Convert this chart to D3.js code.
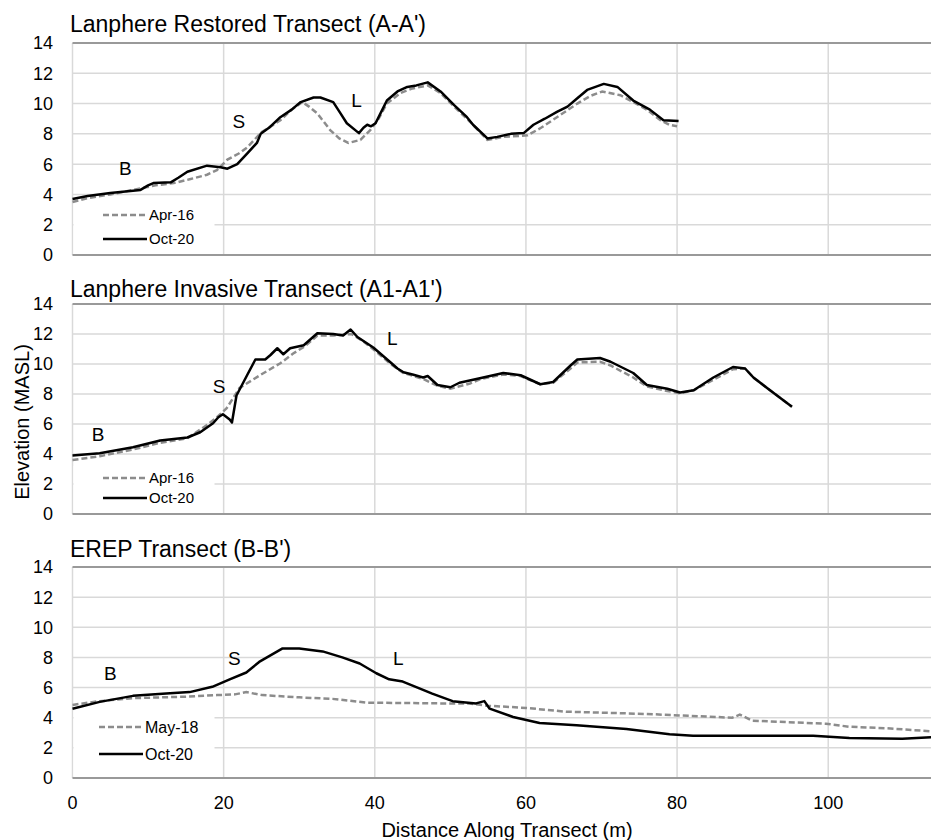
<!DOCTYPE html>
<html>
<head>
<meta charset="utf-8">
<script src="https://cdn.jsdelivr.net/npm/d3@7"></script>
<style>
  body { margin: 0; background: #fff; }
  text { font-family: "Liberation Sans", Arial, sans-serif; fill: #000; }
</style>
</head>
<body>
<div id="chart"></div>
<script>
const width = 931
const height = 840

// distance (m), elevation (MASL) pairs
const restoredApr16 = [[0,3.5],[2,3.75],[5,4.0],[7,4.2],[9,4.4],[11,4.6],[13.4,4.75],[15.5,5.0],[17.8,5.3],[19.1,5.6],[20.5,6.3],[22,6.7],[23.1,7.1],[25,8.1],[27.5,8.9],[29,9.6],[30.4,10.1],[31.3,9.8],[32.4,9.35],[34.1,8.25],[35.3,7.7],[36.5,7.4],[38.1,7.6],[39.4,8.25],[40.5,9.0],[41.6,10.0],[43.4,10.7],[45,11.0],[47,11.2],[48.7,10.7],[50.5,9.8],[52.6,8.8],[54.9,7.6],[57,7.8],[60.2,7.9],[62,8.4],[64.1,9.1],[66.8,10.0],[68.5,10.5],[70.1,10.8],[72.5,10.55],[74.2,10.1],[76,9.6],[77.8,8.9],[79,8.6],[80,8.5]]
const restoredOct20 = [[0,3.7],[2,3.9],[5,4.1],[7,4.2],[9,4.3],[10,4.6],[10.7,4.75],[13,4.8],[14,5.1],[15.2,5.5],[17.8,5.9],[19.6,5.8],[20.5,5.7],[21.8,6.0],[23.1,6.7],[24.4,7.4],[24.9,8.0],[26,8.4],[27.5,9.1],[29,9.6],[30.2,10.1],[31.9,10.4],[32.8,10.4],[34.5,10.1],[35.4,9.4],[36.3,8.7],[37.9,8.05],[38.5,8.4],[39,8.6],[39.5,8.5],[40.1,8.7],[41,9.6],[41.6,10.2],[43,10.8],[44.3,11.1],[45.5,11.2],[47,11.4],[48.7,10.8],[50.5,9.9],[52.2,9.1],[53,8.6],[54.9,7.7],[56.2,7.8],[58,8.0],[59.7,8.05],[61,8.6],[62.5,9.0],[64.1,9.45],[65.5,9.8],[66.8,10.35],[68.1,10.9],[70.3,11.3],[72.1,11.1],[74.2,10.2],[76.4,9.6],[78.2,8.9],[80.2,8.85]]

const invasiveApr16 = [[0,3.6],[3.6,3.85],[8,4.3],[11.6,4.75],[15.2,5.05],[17.7,5.9],[19,6.4],[20.4,7.05],[22.1,8.4],[24.8,9.25],[27.5,10.05],[29.2,10.7],[30.8,11.2],[32.4,11.9],[34.5,11.9],[36.9,12.0],[38.5,11.5],[40,10.9],[42.1,10.0],[43.8,9.4],[46.4,9.0],[48.3,8.55],[50,8.35],[52.6,8.7],[54,9.0],[57,9.3],[59.3,9.2],[61.9,8.65],[63.6,8.75],[65.9,9.7],[66.8,10.1],[69.8,10.15],[71.2,9.9],[74.2,9.1],[76,8.5],[78.7,8.2],[80.4,8.05],[82.2,8.25],[84.8,8.95],[87.4,9.65],[89,9.7],[90.1,9.1],[92.3,8.25],[95.2,7.15]]
const invasiveOct20 = [[0,3.9],[3.6,4.05],[8,4.45],[11.6,4.9],[15.2,5.1],[16.9,5.45],[18.6,6.05],[19.3,6.45],[19.9,6.65],[20.8,6.3],[21.1,6.1],[21.7,7.9],[23.1,9.25],[24.2,10.3],[25.5,10.3],[26.2,10.6],[27.1,11.05],[27.9,10.65],[28.8,11.05],[30.6,11.25],[32.4,12.05],[34.5,12.0],[35.8,11.9],[36.8,12.3],[37.7,11.8],[39.8,11.1],[42.1,10.1],[43,9.7],[43.8,9.45],[45,9.3],[46.4,9.1],[47,9.2],[48.3,8.6],[50,8.45],[51.2,8.75],[53.9,9.05],[57,9.4],[59.3,9.25],[61.9,8.65],[63.6,8.8],[65.9,9.9],[66.8,10.3],[69.8,10.4],[71.2,10.15],[74.2,9.4],[76,8.6],[78.7,8.35],[80.4,8.1],[82.2,8.25],[84.8,9.1],[87.4,9.8],[89,9.7],[90.1,9.1],[92.3,8.25],[95.2,7.15]]

const erepMay18 = [[0,4.85],[3.6,5.1],[8,5.3],[15.1,5.4],[19.1,5.5],[21.5,5.55],[23,5.7],[25.1,5.5],[30,5.35],[34.4,5.25],[38.9,5.0],[48.8,4.95],[52.5,4.95],[54.8,4.8],[60,4.65],[65.3,4.4],[75.9,4.25],[87.3,4.0],[88.3,4.2],[90,3.8],[99.7,3.6],[102.8,3.4],[107.7,3.3],[113.6,3.1]]
const erepOct20 = [[0,4.6],[3.6,5.05],[8,5.45],[12.4,5.6],[15.5,5.7],[18.5,6.05],[20.8,6.55],[23,7.0],[24.7,7.7],[27.8,8.6],[30,8.6],[33.1,8.4],[35.7,8.0],[38,7.6],[40.2,6.95],[41.9,6.55],[43.7,6.4],[45.9,5.95],[47.6,5.6],[50.3,5.1],[53.4,4.95],[54.5,5.1],[55.2,4.6],[58.3,4.05],[61.8,3.65],[66.7,3.5],[73.3,3.25],[79,2.9],[82.1,2.8],[98,2.8],[102.8,2.65],[109.8,2.6],[113.6,2.7]]

const titles = ["Lanphere Restored Transect (A-A')", "Lanphere Invasive Transect (A1-A1')", "EREP Transect (B-B')"]
const legendLabels = [["Apr-16", "Oct-20"], ["Apr-16", "Oct-20"], ["May-18", "Oct-20"]]
const yTicks = [0, 2, 4, 6, 8, 10, 12, 14]
const xTicks = [0, 20, 40, 60, 80, 100]
// landform labels: beach, slope, lee
const markers = [
  [["B", 7, 5.3], ["S", 22, 8.4], ["L", 37.6, 9.8]],
  [["B", 3.4, 4.9], ["S", 19.4, 8.1], ["L", 42.3, 11.3]],
  [["B", 5, 6.5], ["S", 21.4, 7.5], ["L", 43.1, 7.5]]
]

const series = [
  [restoredApr16, restoredOct20],
  [invasiveApr16, invasiveOct20],
  [erepMay18, erepOct20]
]

const panels = [
  { top: 43, bottom: 255, titleY: 32, legend: [201, 254, 215, 239] },
  { top: 304, bottom: 514, titleY: 297, legend: [466, 512, 478, 498] },
  { top: 567, bottom: 778, titleY: 557, legend: [711, 776, 727, 754] }
]

const svg = d3.select("#chart")
  .append("svg")
  .attr("width", width)
  .attr("height", height)

const x = d3.scaleLinear()
  .domain([0, 113.6])
  .range([72.5, 931])

panels.forEach((p, i) => {
  const y = d3.scaleLinear()
    .domain([0, 14])
    .range([p.bottom, p.top])

  const g = svg.append("g")

  // gridlines
  g.selectAll(".hgrid")
    .data(yTicks.slice(1, -1))
    .enter()
    .append("line")
    .attr("x1", x(0)).attr("x2", width)
    .attr("y1", d => y(d)).attr("y2", d => y(d))
    .style("stroke", "#d9d9d9")
    .style("stroke-width", 1.5)

  g.selectAll(".vgrid")
    .data(xTicks)
    .enter()
    .append("line")
    .attr("x1", d => x(d)).attr("x2", d => x(d))
    .attr("y1", p.top).attr("y2", p.bottom)
    .style("stroke", "#d9d9d9")
    .style("stroke-width", 1.5)

  // top and bottom frame
  g.selectAll(".frame")
    .data([14, 0])
    .enter()
    .append("line")
    .attr("x1", x(0)).attr("x2", width)
    .attr("y1", d => y(d)).attr("y2", d => y(d))
    .style("stroke", "#999")
    .style("stroke-width", 2)

  // legend box hides grid
  g.append("rect")
    .attr("x", x(0) + 1)
    .attr("y", p.legend[0])
    .attr("width", 141)
    .attr("height", p.legend[1] - p.legend[0])
    .style("fill", "#fff")

  // y tick labels
  g.selectAll(".ytick")
    .data(yTicks)
    .enter()
    .append("text")
    .attr("x", 53)
    .attr("y", d => y(d))
    .attr("dy", "0.36em")
    .attr("text-anchor", "end")
    .style("font-size", "18px")
    .text(d => d)

  g.append("text")
    .attr("x", 70)
    .attr("y", p.titleY)
    .style("font-size", "23px")
    .text(titles[i])

  const line = d3.line()
    .x(d => x(d[0]))
    .y(d => y(d[1]))

  g.append("path")
    .datum(series[i][0])
    .attr("d", line)
    .style("fill", "none")
    .style("stroke", "#8c8c8c")
    .style("stroke-width", 2.5)
    .style("stroke-dasharray", "6,3")

  g.append("path")
    .datum(series[i][1])
    .attr("d", line)
    .style("fill", "none")
    .style("stroke", "#000")
    .style("stroke-width", 2.5)
    .style("stroke-linejoin", "round")

  // legend
  const lx = i === 2 ? 99 : 103
  g.append("line")
    .attr("x1", lx).attr("x2", lx + 44)
    .attr("y1", p.legend[2]).attr("y2", p.legend[2])
    .style("stroke", "#8c8c8c")
    .style("stroke-width", 2.5)
    .style("stroke-dasharray", "6,3")
  g.append("line")
    .attr("x1", lx).attr("x2", lx + 44)
    .attr("y1", p.legend[3]).attr("y2", p.legend[3])
    .style("stroke", "#000")
    .style("stroke-width", 2.5)
  g.selectAll(".legtext")
    .data(legendLabels[i])
    .enter()
    .append("text")
    .attr("x", lx + 46)
    .attr("y", (d, j) => p.legend[2 + j])
    .attr("dy", "0.36em")
    .style("font-size", i === 2 ? "16px" : "15px")
    .text(d => d)

  // landform markers
  g.selectAll(".marker")
    .data(markers[i])
    .enter()
    .append("text")
    .attr("x", d => x(d[1]))
    .attr("y", d => y(d[2]))
    .attr("text-anchor", "middle")
    .style("font-size", "19px")
    .text(d => d[0])
})

// x axis labels for bottom panel
svg.selectAll(".xtick")
  .data(xTicks)
  .enter()
  .append("text")
  .attr("x", d => x(d))
  .attr("y", 809)
  .attr("text-anchor", "middle")
  .style("font-size", "18px")
  .text(d => d)

svg.append("text")
  .attr("x", 507)
  .attr("y", 837)
  .attr("text-anchor", "middle")
  .style("font-size", "20px")
  .text("Distance Along Transect (m)")

svg.append("text")
  .attr("transform", "translate(29,422) rotate(-90)")
  .attr("text-anchor", "middle")
  .style("font-size", "20px")
  .text("Elevation (MASL)")
</script>
</body>
</html>
